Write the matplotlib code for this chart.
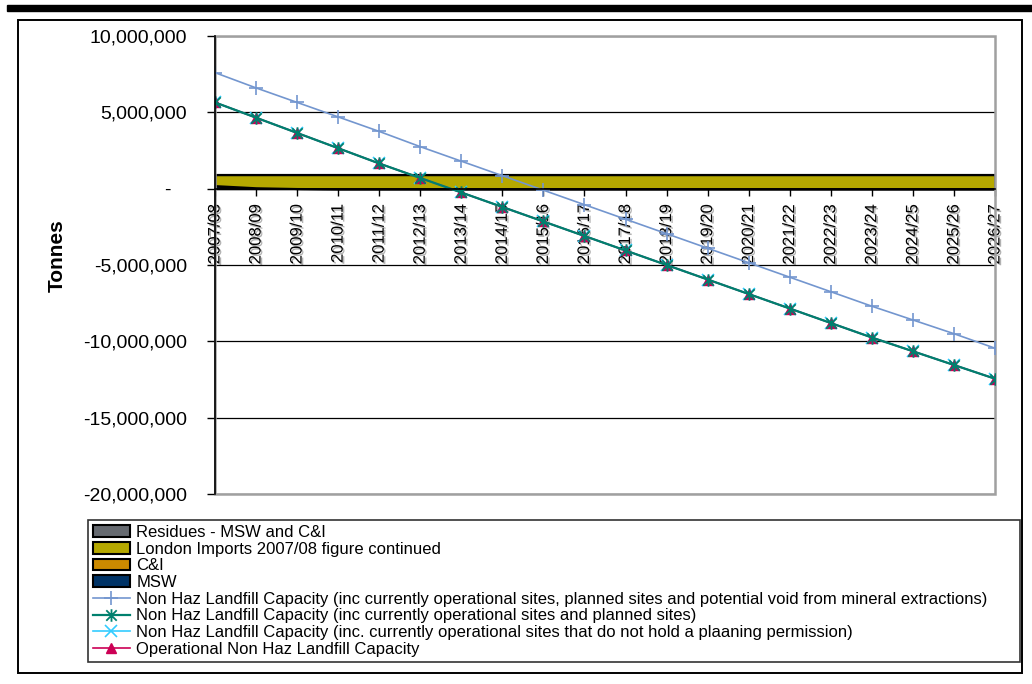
import matplotlib
matplotlib.use("Agg")
import matplotlib.pyplot as plt
import matplotlib.patheffects as pe
from matplotlib.patches import Rectangle
from matplotlib.path import Path
from matplotlib.ticker import FuncFormatter

plt.rcParams["font.family"] = ["Liberation Sans", "DejaVu Sans"]

years = [
    "2007/08", "2008/09", "2009/10", "2010/11", "2011/12", "2012/13", "2013/14",
    "2014/15", "2015/16", "2016/17", "2017/18", "2018/19", "2019/20", "2020/21",
    "2021/22", "2022/23", "2023/24", "2024/25", "2025/26", "2026/27",
]

# stacked areas (tonnes)
msw = [200000, 60000, 10000, 0, 0, 0, 0, 0, 0, 0, 0, 0, 0, 0, 0, 0, 0, 0, 0, 0]
c_and_i = [0] * 20
london_imports = [720000, 860000, 910000, 920000, 920000, 920000, 920000, 920000,
                  920000, 920000, 920000, 920000, 920000, 920000, 920000, 920000,
                  920000, 920000, 920000, 920000]
residues = [0] * 20

# landfill capacity lines (tonnes)
cap_all = [7600000, 6600000, 5650000, 4700000, 3750000, 2750000, 1800000,
           850000, -100000, -1050000, -2000000, -2950000, -3900000, -4850000,
           -5800000, -6750000, -7700000, -8600000, -9500000, -10450000]
cap_planned = [5650000, 4650000, 3650000, 2650000, 1650000, 700000, -250000,
               -1200000, -2150000, -3100000, -4050000, -5000000, -5950000,
               -6900000, -7850000, -8800000, -9750000, -10650000, -11550000,
               -12450000]
cap_no_perm = list(cap_planned)
cap_operational = list(cap_planned)

labels = [
    "Residues - MSW and C&I",
    "London Imports 2007/08 figure continued",
    "C&I",
    "MSW",
    "Non Haz Landfill Capacity (inc currently operational sites, planned sites and potential void from mineral extractions)",
    "Non Haz Landfill Capacity (inc currently operational sites and planned sites)",
    "Non Haz Landfill Capacity (inc. currently operational sites that do not hold a plaaning permission)",
    "Operational Non Haz Landfill Capacity",
]

star = Path([(-1, -1), (1, 1), (-1, 1), (1, -1), (0, -1.2), (0, 1.2)],
            [Path.MOVETO, Path.LINETO, Path.MOVETO, Path.LINETO, Path.MOVETO, Path.LINETO])

fig = plt.figure(figsize=(10.32, 6.84), dpi=100)
ax = fig.add_axes([215 / 1032, 1 - 494 / 684, 780 / 1032, 458 / 684])

x = list(range(len(years)))
polys = ax.stackplot(x, msw, c_and_i, london_imports, residues,
                     colors=["#003366", "#cc8a00", "#b5a800", "#666a70"],
                     edgecolor="black", linewidth=1.5)

l_cyan, = ax.plot(x, cap_no_perm, color="#33ccff", lw=1.2, marker="x", ms=8, mew=1.2)
l_red, = ax.plot(x, cap_operational, color="#cc0055", lw=1.2, marker="^", ms=7)
l_green, = ax.plot(x, cap_planned, color="#00806e", lw=1.6, marker=star, ms=9, mew=1.3,
                   mec="#00806e")
l_blue, = ax.plot(x, cap_all, color="#7396cf", lw=1.2, marker="+", ms=10, mew=1.2)

ax.set_xlim(0, 19)
ax.set_ylim(-20000000, 10000000)
ax.set_yticks(range(-20000000, 10000001, 5000000))


def fmt(v, pos):
    if v == 0:
        return "-   "
    return f"{int(v):,}"


ax.yaxis.set_major_formatter(FuncFormatter(fmt))
ax.set_xticks(x)
ax.set_xticklabels(years)

ax.spines["bottom"].set_position(("data", 0))
ax.spines["top"].set_visible(False)
ax.spines["right"].set_visible(False)
ax.spines["left"].set_linewidth(1.2)
ax.spines["bottom"].set_linewidth(1.2)
ax.tick_params(axis="y", direction="out", length=6, width=1, pad=14, labelsize=14)
ax.tick_params(axis="x", direction="out", length=5, width=1, pad=6, labelsize=12,
               labelrotation=90)
# Excel-style soft shadow on the category labels
for t in ax.get_xticklabels():
    t.set_path_effects([pe.withSimplePatchShadow(offset=(1.2, -1.2),
                                                 shadow_rgbFace="#909090", alpha=0.7)])
ax.yaxis.grid(True, color="black", lw=0.9)
ax.add_patch(Rectangle((0, 0), 1, 1, transform=ax.transAxes, fill=False,
                       edgecolor="#a0a0a0", lw=1.8, zorder=1.6, clip_on=False))

ax.set_ylabel("Tonnes", fontsize=15, fontweight="bold")
ax.yaxis.set_label_coords(-0.19, 0.52)

handles = [polys[3], polys[2], polys[1], polys[0], l_blue, l_green, l_cyan, l_red]
leg = fig.legend(handles, labels, loc="upper left", mode="expand",
                 bbox_to_anchor=(88 / 1032, 1 - 666 / 684, 932 / 1032, 146 / 684),
                 fontsize=12, frameon=True, fancybox=False, borderpad=0.3,
                 labelspacing=0.1, handlelength=2.2, handleheight=0.7,
                 handletextpad=0.4, borderaxespad=0)
leg.get_frame().set_edgecolor("black")
leg.get_frame().set_linewidth(1.2)

# chart border and top rule
fig.patches.append(Rectangle((18 / 1032, 1 - 673 / 684), 1004 / 1032, 653 / 684,
                             transform=fig.transFigure, fill=False,
                             edgecolor="black", lw=1.4))
fig.patches.append(Rectangle((7 / 1032, 1 - 11 / 684), 1, 6 / 684,
                             transform=fig.transFigure, color="black"))

fig.savefig("out.png", dpi=100)
